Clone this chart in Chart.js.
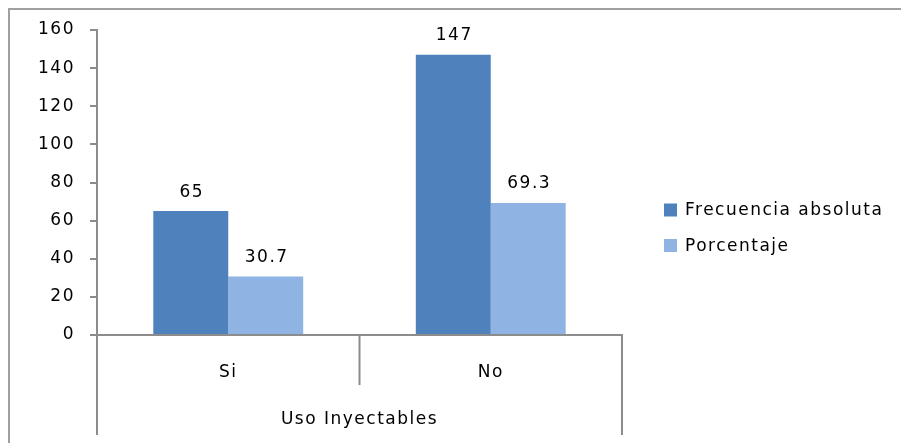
<!DOCTYPE html>
<html>
<head>
<meta charset="utf-8">
<script src="https://cdn.jsdelivr.net/npm/chart.js@4"></script>
<style>
html,body{margin:0;padding:0;background:#fff;}
#wrap{position:relative;width:901px;height:443px;}
</style>
</head>
<body>
<div id="wrap"><canvas id="c" width="901" height="443"></canvas></div>
<script>
const categories = ['Si', 'No'];
const groupLabel = 'Uso Inyectables';
const seriesNames = ['Frecuencia absoluta', 'Porcentaje'];
const frecuencia = [65, 147];
const porcentaje = [30.7, 69.3];
const yTicks = [0, 20, 40, 60, 80, 100, 120, 140, 160];

const colors = ['#4F81BD', '#8FB3E2'];
const axisColor = '#8C8C8C';
const FONT = "'DejaVu Sans', sans-serif";
const FS = 17;
const LS = '1.5px';

const spacingPlugin = {
  id: 'spacing',
  beforeLayout(chart) { chart.ctx.letterSpacing = LS; },
  beforeDraw(chart) { chart.ctx.letterSpacing = LS; }
};

const decor = {
  id: 'decor',
  beforeDraw(chart) {
    const ctx = chart.ctx;
    ctx.save();
    ctx.strokeStyle = '#A0A0A0';
    ctx.lineWidth = 2;
    ctx.beginPath();
    ctx.moveTo(9, 443); ctx.lineTo(9, 9); ctx.lineTo(901, 9);
    ctx.stroke();
    ctx.restore();
  },
  afterDraw(chart) {
    const ctx = chart.ctx;
    const x = chart.scales.x;
    const y0 = chart.scales.y.getPixelForValue(0);
    ctx.save();
    ctx.strokeStyle = axisColor;
    ctx.lineWidth = 2;
    const mid = (x.getPixelForValue(0) + x.getPixelForValue(1)) / 2;
    ctx.beginPath();
    ctx.moveTo(mid, y0); ctx.lineTo(mid, y0 + 50);
    ctx.moveTo(x.left, y0); ctx.lineTo(x.left, y0 + 100);
    ctx.moveTo(x.right, y0); ctx.lineTo(x.right, y0 + 100);
    ctx.stroke();
    ctx.letterSpacing = LS;
    ctx.fillStyle = '#000';
    ctx.font = FS + "px " + FONT;
    ctx.textAlign = 'center';
    ctx.textBaseline = 'middle';
    chart.data.datasets.forEach((ds, di) => {
      const meta = chart.getDatasetMeta(di);
      meta.data.forEach((bar, i) => {
        ctx.fillText(String(ds.data[i]), bar.x + 1, bar.y - 19);
      });
    });
    ctx.textAlign = 'left';
    const lx = 664, ly = [210, 245.5];
    seriesNames.forEach((n, i) => {
      ctx.fillStyle = colors[i];
      ctx.fillRect(lx, ly[i] - 6.5, 13, 13);
      ctx.fillStyle = '#000';
      ctx.fillText(n, 685, ly[i] + 1);
    });
    ctx.restore();
  }
};

new Chart(document.getElementById('c'), {
  type: 'bar',
  data: {
    labels: categories,
    datasets: [
      { label: seriesNames[0], data: frecuencia, backgroundColor: colors[0], borderWidth: 0 },
      { label: seriesNames[1], data: porcentaje, backgroundColor: colors[1], borderWidth: 0 }
    ]
  },
  options: {
    responsive: false,
    animation: false,
    devicePixelRatio: 1,
    layout: { padding: { left: 0, top: 30, right: 279, bottom: 0 } },
    plugins: { legend: { display: false }, tooltip: { enabled: false } },
    datasets: { bar: { categoryPercentage: 0.571, barPercentage: 1.0 } },
    scales: {
      x: {
        afterFit(s) { s.height = 108; },
        grid: { display: true, drawOnChartArea: false, drawTicks: false, color: 'transparent' },
        border: { display: true, color: axisColor, width: 2 },
        ticks: { color: '#000', font: { family: FONT, size: FS }, padding: 27 },
        title: { display: true, text: groupLabel, color: '#000', font: { family: FONT, size: FS }, padding: { top: 0, bottom: 13 } }
      },
      y: {
        min: 0, max: 160,
        afterFit(s) { s.width = 97; },
        afterBuildTicks(s) { s.ticks = yTicks.map(v => ({ value: v })); },
        grid: { display: true, drawOnChartArea: false, drawTicks: true, tickLength: 7, color: axisColor, lineWidth: 2 },
        border: { display: true, color: axisColor, width: 2 },
        ticks: { color: '#000', font: { family: FONT, size: FS }, padding: 15 }
      }
    }
  },
  plugins: [spacingPlugin, decor]
});
</script>
</body>
</html>
